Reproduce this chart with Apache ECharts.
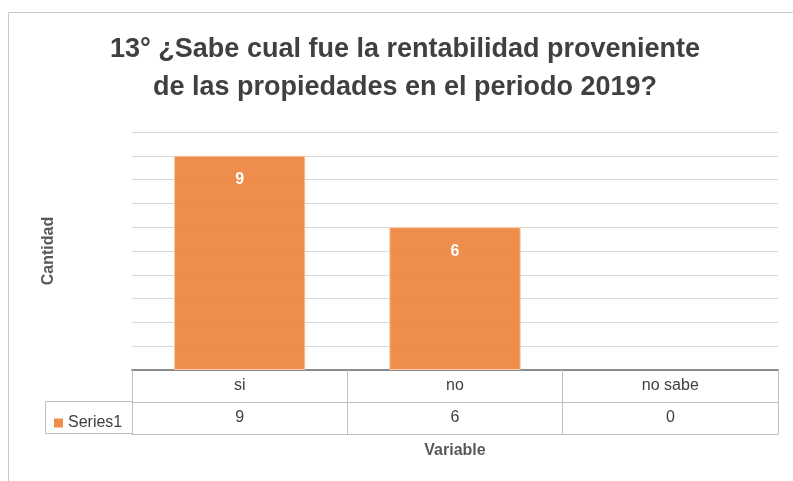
<!DOCTYPE html>
<html><head><meta charset="utf-8">
<script src="https://cdn.jsdelivr.net/npm/echarts@6/dist/echarts.min.js"></script>
<style>html,body{margin:0;padding:0;background:#fff}#c{width:793px;height:481px}</style>
</head><body><div id="c"></div>
<script>
const titleLines = ['13° ¿Sabe cual fue la rentabilidad proveniente', 'de las propiedades en el periodo 2019?'];
const categories = ['si', 'no', 'no sabe'];
const seriesName = 'Series1';
const values = [9, 6, 0];
const yAxisName = 'Cantidad';
const xAxisName = 'Variable';

const FONT = '"Liberation Sans", Arial, sans-serif';
const chart = echarts.init(document.getElementById('c'), null, {renderer: 'canvas'});
chart.setOption({
  animation: false,
  backgroundColor: '#fff',
  textStyle: {fontFamily: FONT},
  grid: {left: 132, right: 15, top: 132, bottom: 111},
  legend: {
    data: [seriesName], left: 49, top: 410, itemWidth: 9, itemHeight: 9, icon: 'rect',
    itemStyle: {borderWidth: 0, color: 'rgba(237,125,49,0.87)'},
    textStyle: {fontSize: 16, color: '#404040', fontFamily: FONT}, itemGap: 4
  },
  xAxis: [
    {type: 'category', data: categories, position: 'bottom',
     axisLine: {lineStyle: {color: '#8c8c8c', width: 2}},
     axisTick: {show: true, length: 64, lineStyle: {color: '#bfbfbf'}},
     axisLabel: {margin: 8, fontSize: 16, color: '#404040'}},
    {type: 'category', data: values.map(String), position: 'bottom', offset: 32,
     axisLine: {lineStyle: {color: '#bfbfbf'}}, axisTick: {show: false},
     axisLabel: {margin: 8, fontSize: 16, color: '#404040'}},
    {type: 'category', data: categories, position: 'bottom', offset: 64,
     axisLine: {lineStyle: {color: '#bfbfbf'}}, axisTick: {show: false},
     axisLabel: {show: false},
     name: xAxisName, nameLocation: 'middle', nameGap: 9,
     nameTextStyle: {fontSize: 16, fontWeight: 'bold', color: '#595959'}}
  ],
  yAxis: {
    type: 'value', min: 0, max: 10, interval: 1,
    axisLabel: {show: false}, axisLine: {show: false}, axisTick: {show: false},
    splitLine: {lineStyle: {color: '#d9d9d9'}},
    name: yAxisName, nameLocation: 'middle', nameGap: 75, nameRotate: 90,
    nameTextStyle: {fontSize: 16, fontWeight: 'bold', color: '#595959'}
  },
  series: [{
    name: seriesName, type: 'bar', xAxisIndex: 0, barWidth: '61%',
    itemStyle: {color: 'rgba(237,125,49,0.87)', borderColor: '#f8c9a8', borderWidth: 1},
    label: {show: true, position: 'insideTop', distance: 16, color: '#fff', fontSize: 16, fontWeight: 'bold'},
    data: values.map(v => v === 0 ? {value: v, itemStyle: {borderWidth: 0}, label: {position: 'top', distance: 17, fontSize: 6}} : v)
  }],
  graphic: [
    {type: 'rect', shape: {x: 8.5, y: 12.5, width: 800, height: 480}, style: {fill: null, stroke: '#c8c8c8', lineWidth: 1}, silent: true},
    {type: 'polyline', shape: {points: [[132, 401.5], [45.5, 401.5], [45.5, 433.5], [132, 433.5]]}, style: {fill: null, stroke: '#bfbfbf', lineWidth: 1}, silent: true},
    {type: 'text', x: 405, y: 50, style: {text: titleLines[0], textAlign: 'center', textVerticalAlign: 'middle', fontSize: 27, fontWeight: 'bold', fill: '#404040', fontFamily: FONT}},
    {type: 'text', x: 405, y: 88, style: {text: titleLines[1], textAlign: 'center', textVerticalAlign: 'middle', fontSize: 27, fontWeight: 'bold', fill: '#404040', fontFamily: FONT}}
  ]
});
</script></body></html>
